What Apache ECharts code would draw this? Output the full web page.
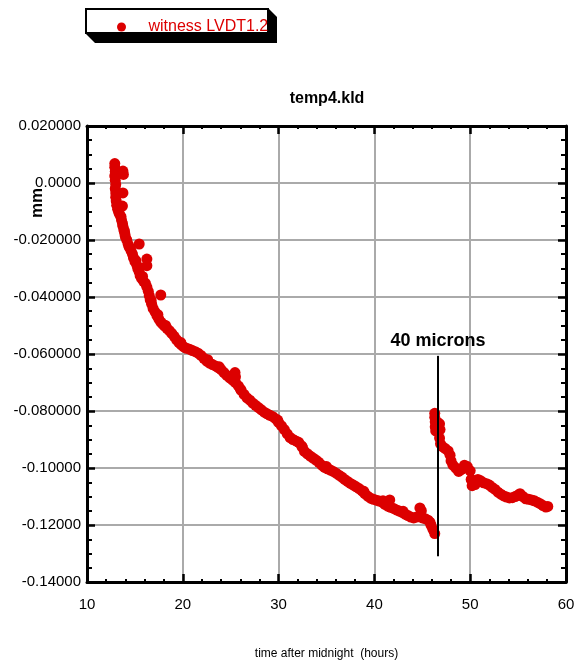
<!DOCTYPE html>
<html>
<head>
<meta charset="utf-8">
<script src="https://cdn.jsdelivr.net/npm/echarts@6/dist/echarts.min.js"></script>
<style>
  html, body { margin: 0; padding: 0; background: #fff; }
  #chart { width: 578px; height: 662px; }
</style>
</head>
<body>
<div id="chart"></div>
<script>
// LVDT readings before the step (hours after midnight, displacement in mm)
const hoursBefore = [
  12.9, 12.9, 12.95, 12.9, 12.95, 13.0, 12.95, 13.0, 13.0, 13.05, 13.1, 13.2, 13.3, 13.4,
  13.55, 13.6, 13.7, 13.75, 13.85, 13.95, 14.0, 14.15, 14.3, 14.4, 14.6, 14.75, 14.85,
  15.0, 15.2, 15.3, 15.45, 15.55, 15.7, 15.9, 16.1, 16.25, 16.4, 16.5, 16.6, 16.75, 16.9,
  17.1, 17.3, 17.5, 17.7, 17.9, 18.1, 18.35, 18.6, 18.85, 19.1, 19.35, 19.6, 19.85,
  20.1, 20.4, 20.7, 21.0, 21.3, 21.6, 21.9, 22.2, 22.5, 22.8, 23.1, 23.4, 23.7, 24.0,
  24.3, 24.6, 24.9, 25.2, 25.5, 25.8, 26.1, 26.4, 26.7, 27.0, 27.3, 27.6, 27.9, 28.2,
  28.5, 28.8, 29.1, 29.4, 29.7, 30.0, 30.3, 30.6, 30.9, 31.2, 31.5, 31.8, 32.1, 32.4,
  32.7, 33.0, 33.3, 33.6, 33.9, 34.2, 34.5, 34.8, 35.1, 35.4, 35.7, 36.0, 36.3, 36.6,
  36.9, 37.2, 37.5, 37.8, 38.1, 38.4, 38.7, 39.0, 39.3, 39.6, 39.9, 40.2, 40.5, 40.8,
  41.1, 41.4, 41.7, 42.0, 42.3, 42.6, 42.9, 43.2, 43.5, 43.8, 44.1, 44.4, 44.7, 45.0,
  45.3, 45.6, 45.9, 46.1, 46.3,
  13.75, 13.8, 13.75, 13.7, 15.45, 16.25, 16.25, 17.7, 25.45, 25.5, 41.6, 44.75, 44.9,
  13.25, 13.9, 14.5, 15.1, 15.8, 16.7, 17.4, 18.2, 19.8, 22.6, 23.8, 26.0, 29.9, 32.5,
  35.0, 38.9, 40.9, 43.0, 45.8
];
const mmBefore = [
  0.0068, 0.0055, 0.0040, 0.0025, 0.0010, -0.0005, -0.0020, -0.0035, -0.0050, -0.0063,
  -0.0078, -0.0092, -0.0102, -0.0110, -0.0118, -0.0130, -0.0142, -0.0152, -0.0165, -0.0178,
  -0.0188, -0.0200, -0.0215, -0.0225, -0.0238, -0.0250, -0.0262, -0.0275, -0.0288, -0.0300,
  -0.0312, -0.0325, -0.0335, -0.0345, -0.0352, -0.0365, -0.0380, -0.0395, -0.0410, -0.0425,
  -0.0440, -0.0452, -0.0465, -0.0478, -0.0488, -0.0495, -0.0502, -0.0510, -0.0518, -0.0528,
  -0.0538, -0.0550, -0.0560, -0.0568, -0.0575, -0.0580, -0.0583, -0.0588, -0.0592, -0.0597,
  -0.0605, -0.0615, -0.0625, -0.0632, -0.0637, -0.0642, -0.0648, -0.0655, -0.0665, -0.0675,
  -0.0684, -0.0692, -0.0700, -0.0712, -0.0728, -0.0742, -0.0754, -0.0762, -0.0772, -0.0780,
  -0.0788, -0.0796, -0.0804, -0.0810, -0.0815, -0.0820, -0.0828, -0.0840, -0.0852, -0.0865,
  -0.0880, -0.0893, -0.0900, -0.0905, -0.0910, -0.0922, -0.0942, -0.0950, -0.0958, -0.0965,
  -0.0972, -0.0980, -0.0990, -0.0998, -0.1003, -0.1007, -0.1012, -0.1018, -0.1025, -0.1032,
  -0.1040, -0.1047, -0.1054, -0.1060, -0.1066, -0.1072, -0.1080, -0.1090, -0.1099, -0.1106,
  -0.1110, -0.1113, -0.1116, -0.1120, -0.1128, -0.1134, -0.1138, -0.1142, -0.1147, -0.1151,
  -0.1156, -0.1162, -0.1167, -0.1172, -0.1175, -0.1172, -0.1170, -0.1175, -0.1178, -0.1183,
  -0.1200, -0.1215, -0.1230,
  0.0042, 0.0030, -0.0035, -0.0081, -0.0214, -0.0267, -0.0290, -0.0393, -0.0665, -0.0680,
  -0.1112, -0.1140, -0.1150,
  -0.0085, -0.0168, -0.0228, -0.0272, -0.0328, -0.0412, -0.0462, -0.0500, -0.0560, -0.0620,
  -0.0645, -0.0722, -0.0832, -0.0928, -0.0995, -0.1082, -0.1115, -0.1152, -0.1190
];

// LVDT readings after the step
const hoursAfter = [
  46.3, 46.3, 46.35, 46.35, 46.4, 46.6, 46.8, 46.85, 46.8, 46.9, 47.1, 47.4, 47.7, 47.9,
  48.0, 48.2, 48.5, 48.8, 49.1, 49.4, 49.7, 50.0, 50.1, 50.2, 50.5, 50.8, 51.1, 51.4,
  51.7, 52.0, 52.3, 52.6, 52.9, 53.2, 53.5, 53.8, 54.1, 54.4, 54.7, 55.0, 55.2, 55.5,
  55.8, 56.1, 56.4, 56.7, 57.0, 57.3, 57.6, 57.9, 58.1
];
const mmAfter = [
  -0.0808, -0.0822, -0.0838, -0.0855, -0.0870, -0.0840, -0.0845, -0.0865, -0.0895, -0.0915,
  -0.0925, -0.0932, -0.0940, -0.0955, -0.0975, -0.0990, -0.1000, -0.1012, -0.1005, -0.0990,
  -0.0995, -0.1010, -0.1040, -0.1062, -0.1058, -0.1040, -0.1045, -0.1052, -0.1055, -0.1060,
  -0.1068, -0.1075, -0.1085, -0.1092, -0.1098, -0.1102, -0.1105, -0.1104, -0.1100, -0.1095,
  -0.1090, -0.1100, -0.1108, -0.1110, -0.1112, -0.1115, -0.1120, -0.1125, -0.1132, -0.1137,
  -0.1135
];

// Marker line for the step
const stepHours = [46.64, 46.64];
const stepMm = [-0.0607, -0.1309];
const stepLabel = '40 microns';

// Axis tick labels
const yTickLabels = ['-0.14000', '-0.12000', '-0.10000', '-0.080000', '-0.060000',
                     '-0.040000', '-0.020000', '0.0000', '0.020000'];
const xTickLabels = ['10', '20', '30', '40', '50', '60'];

const seriesName = 'witness LVDT1.2';
const red = '#dc0000';
const FONT = '"Liberation Sans", Arial, Helvetica, sans-serif';

const points = hoursBefore.map((h, i) => [h, mmBefore[i]])
  .concat(hoursAfter.map((h, i) => [h, mmAfter[i]]));

const chart = echarts.init(document.getElementById('chart'), null, { renderer: 'canvas' });

const tickStyle = { show: true, inside: true, length: 8, lineStyle: { color: '#000', width: 2.5 } };
const minorStyle = { show: true, splitNumber: 5, length: 3, lineStyle: { color: '#000', width: 2 } };
const axisLineStyle = { show: true, onZero: false, lineStyle: { color: '#000', width: 3 } };

chart.setOption({
  animation: false,
  backgroundColor: '#fff',
  grid: { left: 87, right: 12, top: 126, bottom: 80, containLabel: false, outerBoundsMode: 'none' },
  legend: {
    left: 112, top: 14,
    itemWidth: 44, itemHeight: 9, padding: 5,
    data: [{ name: seriesName, icon: 'circle' }],
    textStyle: { color: red, fontSize: 16, fontFamily: FONT }
  },
  xAxis: [{
    type: 'value', min: 10, max: 60, interval: 10,
    name: 'time after midnight  (hours)', nameLocation: 'middle', nameGap: 66,
    nameTextStyle: { fontSize: 12, fontFamily: FONT, color: '#000' },
    axisLine: axisLineStyle,
    axisTick: tickStyle,
    minorTick: minorStyle,
    splitLine: { show: true, lineStyle: { color: '#aaa', width: 2 } },
    axisLabel: {
      margin: 15, fontSize: 15, fontFamily: FONT, color: '#000',
      formatter: v => xTickLabels[Math.round((v - 10) / 10)]
    }
  }, {
    type: 'value', min: 10, max: 60, interval: 10, position: 'top',
    axisLine: axisLineStyle, axisTick: tickStyle, minorTick: minorStyle,
    splitLine: { show: false }, axisLabel: { show: false }
  }],
  yAxis: [{
    type: 'value', min: -0.14, max: 0.02, interval: 0.02,
    axisLine: axisLineStyle,
    axisTick: tickStyle,
    minorTick: Object.assign({}, minorStyle, { splitNumber: 4, length: 5 }),
    splitLine: { show: true, lineStyle: { color: '#aaa', width: 2 } },
    axisLabel: {
      margin: 6, fontSize: 15, fontFamily: FONT, color: '#000',
      formatter: v => yTickLabels[Math.round((v + 0.14) / 0.02)]
    }
  }, {
    type: 'value', min: -0.14, max: 0.02, interval: 0.02, position: 'right',
    axisLine: axisLineStyle, axisTick: tickStyle,
    minorTick: Object.assign({}, minorStyle, { splitNumber: 4, length: 5 }),
    splitLine: { show: false }, axisLabel: { show: false }
  }],
  graphic: [
    // legend frame with its dark drop shadow
    { type: 'polygon', z: -1, shape: { points: [[85, 33], [95, 43], [277, 43], [277, 17], [268, 8]] },
      style: { fill: '#000' } },
    { type: 'rect', z: 0, shape: { x: 86, y: 9, width: 182, height: 24 },
      style: { fill: '#fff', stroke: '#000', lineWidth: 2 } },
    { type: 'text', x: 327, y: 99,
      style: { text: 'temp4.kld', font: 'bold 16px ' + FONT, fill: '#000',
               textAlign: 'center', textVerticalAlign: 'middle' } },
    { type: 'text', x: 37, y: 203, rotation: Math.PI / 2,
      style: { text: 'mm', font: 'bold 17px ' + FONT, fill: '#000',
               textAlign: 'center', textVerticalAlign: 'middle' } }
  ],
  series: [{
    name: seriesName,
    type: 'scatter',
    symbol: 'circle',
    symbolSize: 11,
    itemStyle: { color: red, opacity: 1 },
    data: points,
    z: 2
  }, {
    name: 'step',
    type: 'line',
    xAxisIndex: 0, yAxisIndex: 0,
    data: stepHours.map((h, i) => ({
      value: [h, stepMm[i]],
      label: i === 0 ? {
        show: true, position: 'top', distance: 5, formatter: stepLabel,
        fontSize: 18, fontWeight: 'bold', fontFamily: FONT, color: '#000'
      } : { show: false }
    })),
    showSymbol: true,
    symbol: 'circle',
    symbolSize: 1,
    itemStyle: { color: '#000' },
    lineStyle: { color: '#000', width: 2 },
    silent: true,
    z: 3
  }]
});
</script>
</body>
</html>
